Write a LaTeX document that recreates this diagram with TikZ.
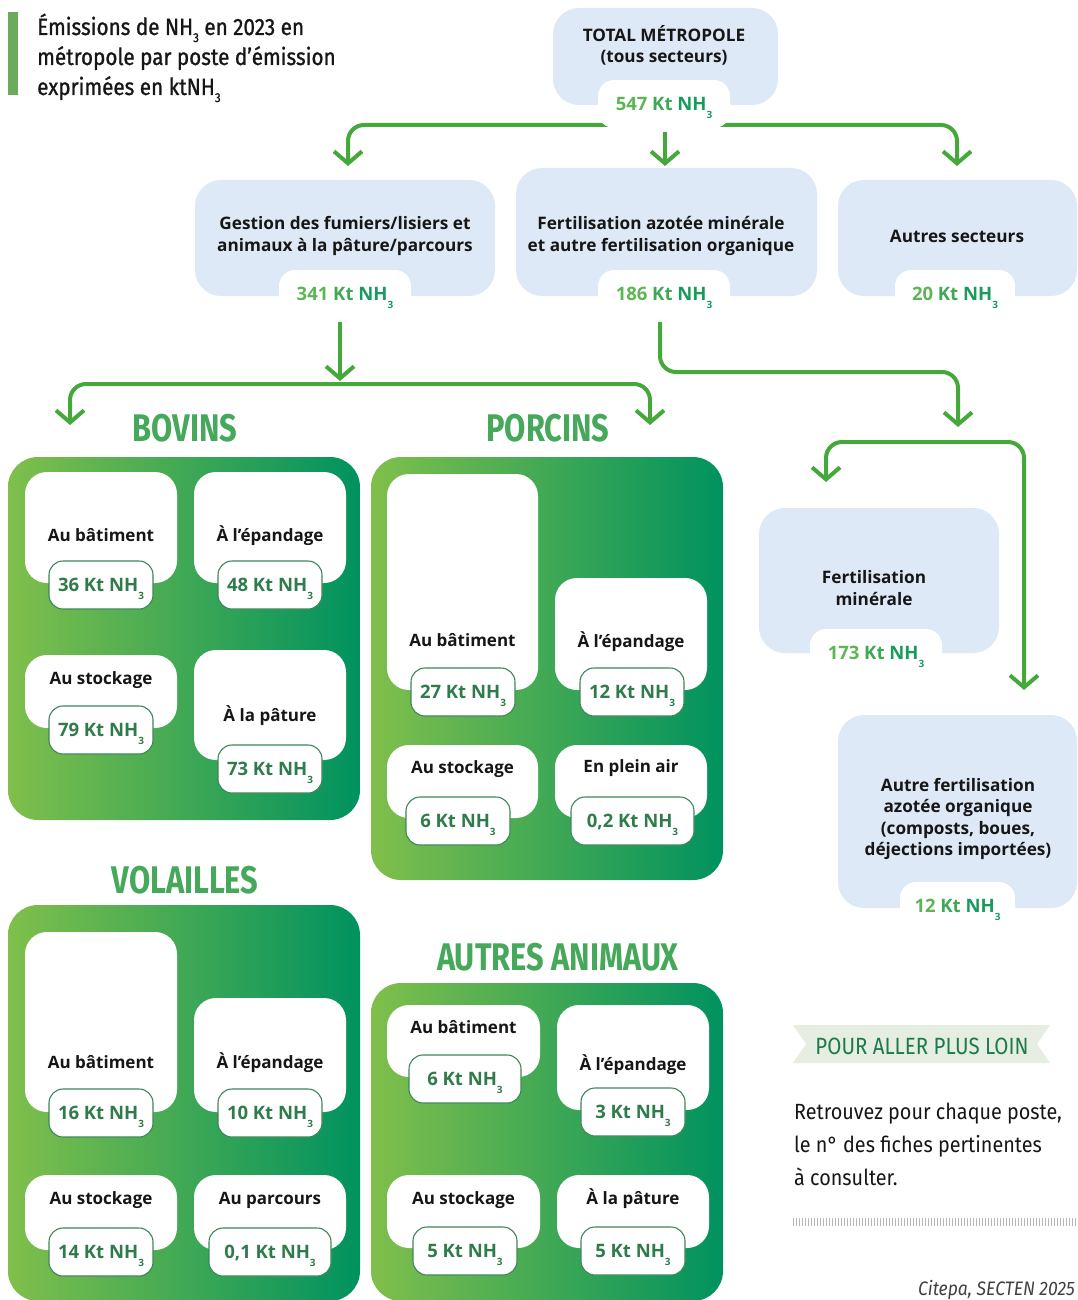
\documentclass[tikz,border=0pt]{standalone}
\usepackage{fontspec}
\setmainfont{Open Sans}
\newfontfamily\dinfont{Fira Sans}[FakeStretch=0.8]
\newfontfamily\dinbanner{Fira Sans}[FakeStretch=0.87]
\newfontfamily\dintitle{Fira Sans}[FakeStretch=0.88,FakeBold=1]
\newfontfamily\dintext{Fira Sans}[FakeStretch=0.9]
\usetikzlibrary{arrows.meta}
\definecolor{boxblue}{HTML}{DDE9F6}
\definecolor{flowgreen}{HTML}{45A83A}
\definecolor{panelL}{HTML}{80BF4B}
\definecolor{panelR}{HTML}{00925F}
\definecolor{pillborder}{HTML}{3D8759}
\definecolor{pilltext}{HTML}{2F7B4B}
\definecolor{valA}{HTML}{5DB553}
\definecolor{valB}{HTML}{3FA856}
\definecolor{valC}{HTML}{199B5E}
\definecolor{headgreen}{HTML}{45A85A}
\definecolor{titlebar}{HTML}{6AAB5C}
\definecolor{bannerbg}{HTML}{E6EEE1}
\definecolor{bannertext}{HTML}{1D7A4C}
\definecolor{inktext}{HTML}{161616}
\newcommand\nhsub{\raisebox{-0.42em}{\fontsize{10}{10}\selectfont 3}}
\newcommand\kt[1]{#1 Kt NH\nhsub}
\newcommand\ktc[1]{\textcolor{valA}{#1} \textcolor{valB}{Kt} \textcolor{valC}{NH\nhsub}}
\newcommand\mkcard[7]{\node[cardbox,minimum width=#4pt,minimum height=#5pt] (#1) at (#2,#3) {};
  \node[lbl] (#1-t) at (#2,#7) {#6};}
\newcommand\mkpill[5]{\node[pill,minimum width=#4pt] (#1) at (#2,#3) {\kt{#5}};}
\newcommand\mktop[5]{\node[toppill,minimum width=#4pt] (#1) at (#2,#3) {\ktc{#5}};}
\begin{document}
\begin{tikzpicture}[
  x=1pt,y=-1pt,
  flow/.style={draw=flowgreen,line width=4pt,rounded corners=16pt,
    -{Straight Barb[length=12pt,width=28pt]}},
  bluebox/.style={fill=boxblue,rounded corners=26pt,inner sep=0pt},
  cardbox/.style={fill=white,rounded corners=22pt,inner sep=0pt},
  panel/.style={left color=panelL,right color=panelR,rounded corners=30pt,inner sep=0pt},
  pill/.style={fill=white,draw=pillborder,line width=1.1pt,rounded corners=14pt,
    minimum height=48pt,inner sep=0pt,text=pilltext,
    font=\fontsize{18.5}{20}\selectfont\bfseries,text height=13pt,text depth=0pt},
  toppill/.style={fill=white,rounded corners=16pt,minimum height=48pt,inner sep=0pt,
    font=\fontsize{18.5}{20}\selectfont\bfseries,text height=13pt,text depth=0pt},
  lbl/.style={inner sep=0pt,text=inktext,font=\fontsize{17}{21}\selectfont\bfseries,
    text height=12pt,text depth=0pt},
  btxt/.style={inner sep=0pt,text=inktext,align=center,
    font=\fontsize{17.2}{21.5}\selectfont\bfseries},
  head/.style={inner sep=0pt,text=headgreen,font=\dinfont\fontsize{38.5}{40}\selectfont\bfseries},
  ttl/.style={anchor=base west,inner sep=0pt,text=inktext,font=\dintitle\fontsize{23.5}{30}\selectfont},
  rtx/.style={anchor=base west,inner sep=0pt,text=inktext,font=\dintext\fontsize{22}{33}\selectfont},
]
\useasboundingbox (0,0) rectangle (1077,1300);

% ---- title
\fill[titlebar] (8,12) rectangle (18,95);
\node[ttl] (title1) at (37,35) {Émissions de NH\raisebox{-0.3em}{\fontsize{13}{13}\selectfont 3} en 2023 en};
\node[ttl] (title2) at (37,65) {métropole par poste d’émission};
\node[ttl] (title3) at (37,95) {exprimées en ktNH\raisebox{-0.3em}{\fontsize{13}{13}\selectfont 3}};

% ---- green panels
\node[panel,minimum width=352pt,minimum height=363pt] (pBov) at (184,638.5) {};
\node[panel,minimum width=352pt,minimum height=423pt] (pPor) at (547,668.5) {};
\node[panel,minimum width=352pt,minimum height=396pt] (pVol) at (184,1103) {};
\node[panel,minimum width=352pt,minimum height=318pt] (pAut) at (547,1142) {};

% ---- blue boxes
\node[bluebox,minimum width=225pt,minimum height=97pt] (tot) at (665.5,56.5) {};
\node[btxt] (totT) at (664,45.5) {TOTAL MÉTROPOLE\\(tous secteurs)};
\node[bluebox,minimum width=300pt,minimum height=116pt] (gest) at (345,238) {};
\node[btxt] (gestT) at (345,236) {Gestion des fumiers/lisiers et\\animaux à la pâture/parcours};
\node[bluebox,minimum width=301pt,minimum height=128pt] (fert) at (666.5,232) {};
\node[btxt] (fertT) at (661,236) {Fertilisation azotée minérale\\et autre fertilisation organique};
\node[bluebox,minimum width=239pt,minimum height=116pt] (autres) at (957.5,238) {};
\node[btxt] (autresT) at (957,236) {Autres secteurs};
\node[bluebox,minimum width=240pt,minimum height=145pt] (fmin) at (879,580.5) {};
\node[btxt] (fminT) at (874,588) {Fertilisation\\minérale};
\node[bluebox,minimum width=239pt,minimum height=193pt] (forg) at (957.5,811.5) {};
\node[btxt] (forgT) at (958,819) {Autre fertilisation\\azotée organique\\(composts, boues,\\déjections importées)};

% ---- connectors
\coordinate (s0) at (665,125);
\coordinate (s0b) at (665,132);
\coordinate (e1) at (348,166);
\coordinate (e2) at (665,166);
\coordinate (e3) at (957,166);
\draw[flow] (s0) -| (e1);
\draw[flow] (s0) -| (e3);
\draw[flow] (s0b) -- (e2);

\coordinate (g0) at (340,322);
\coordinate (g1) at (340,381);
\coordinate (g2) at (340,384);
\coordinate (gb) at (70,425);
\coordinate (gp) at (650,425);
\draw[flow] (g0) -- (g1);
\draw[flow] (g2) -| (gb);
\draw[flow] (g2) -| (gp);

\coordinate (f0) at (660,322);
\coordinate (f1) at (958,372);
\coordinate (f2) at (958,427);
\draw[flow] (f0) |- (f1) -- (f2);

\coordinate (h0) at (925,442);
\coordinate (h1) at (826,482);
\coordinate (h2) at (1024,690);
\draw[flow] (h0) -| (h1);
\draw[flow] (h0) -| (h2);

% ---- top pills
\mktop{totV}{664}{104}{132}{547}
\mktop{gestV}{345}{294}{132}{341}
\mktop{fertV}{664}{294}{132}{186}
\mktop{autresV}{955}{294}{120}{20}
\mktop{fminV}{876}{653}{132}{173}
\mktop{forgV}{957.5}{906}{115}{12}

% ---- headings
\node[head] (hBov) at (185,428) {BOVINS};
\node[head] (hPor) at (548,428) {PORCINS};
\node[head] (hVol) at (185,880) {VOLAILLES};
\node[head] (hAut) at (558,957) {AUTRES ANIMAUX};

% ---- bovins
\mkcard{b1}{101}{527.5}{152}{111}{Au bâtiment}{535}
\mkcard{b2}{270}{527.5}{152}{111}{À l’épandage}{535}
\mkcard{b3}{101}{691.5}{152}{73}{Au stockage}{678}
\mkcard{b4}{270}{705}{152}{110}{À la pâture}{715}
\mkpill{b1v}{101}{585}{104}{36}
\mkpill{b2v}{270}{585}{104}{48}
\mkpill{b3v}{101}{730}{104}{79}
\mkpill{b4v}{270}{769}{104}{73}

% ---- porcins
\mkcard{p1}{462.5}{582}{151}{216}{Au bâtiment}{640}
\mkcard{p2}{631}{634}{152}{112}{À l’épandage}{641}
\mkcard{p3}{462.5}{781.5}{151}{73}{Au stockage}{767}
\mkcard{p4}{631}{781.5}{152}{73}{En plein air}{766}
\mkpill{p1v}{463}{692}{104}{27}
\mkpill{p2v}{632}{692}{104}{12}
\mkpill{p3v}{458}{821}{104}{6}
\mkpill{p4v}{632.5}{821}{123}{0,2}

% ---- volailles
\mkcard{v1}{101}{1022}{152}{180}{Au bâtiment}{1062}
\mkcard{v2}{270}{1055}{152}{114}{À l’épandage}{1062}
\mkcard{v3}{101}{1212.5}{152}{75}{Au stockage}{1198}
\mkcard{v4}{270}{1212.5}{152}{75}{Au parcours}{1198}
\mkpill{v1v}{101}{1113}{104}{16}
\mkpill{v2v}{270}{1113}{104}{10}
\mkpill{v3v}{101}{1252}{104}{14}
\mkpill{v4v}{270}{1252}{122}{0,1}

% ---- autres animaux
\mkcard{a1}{463.5}{1041}{153}{72}{Au bâtiment}{1027}
\mkcard{a2}{633}{1057.5}{152}{105}{À l’épandage}{1064}
\mkcard{a3}{463.5}{1211.5}{153}{73}{Au stockage}{1198}
\mkcard{a4}{633}{1211.5}{152}{73}{À la pâture}{1198}
\mkpill{a1v}{465}{1079}{112}{6}
\mkpill{a2v}{633}{1112}{104}{3}
\mkpill{a3v}{465}{1251}{104}{5}
\mkpill{a4v}{633}{1251}{104}{5}

% ---- pour aller plus loin
\fill[bannerbg] (793,1025) -- (1050,1025) -- (1037,1044) -- (1050,1063) -- (793,1063) -- (806,1044) -- cycle;
\node[inner sep=0pt,text=bannertext,font=\dinbanner\fontsize{23.5}{25}\selectfont] (banner) at (922,1046) {POUR ALLER PLUS LOIN};
\node[rtx] (r1) at (794,1119) {Retrouvez pour chaque poste,};
\node[rtx] (r2) at (794,1152) {le n° des fiches pertinentes};
\node[rtx] (r3) at (794,1185) {à consulter.};
\draw[black!28,line width=8pt,dash pattern=on 1pt off 2pt] (793,1222) -- (1077,1222);
\node[anchor=base east,inner sep=0pt,text=black!75,font=\dintext\itshape\fontsize{19.5}{20}\selectfont] (src) at (1075,1295) {Citepa, SECTEN 2025};
\end{tikzpicture}
\end{document}
